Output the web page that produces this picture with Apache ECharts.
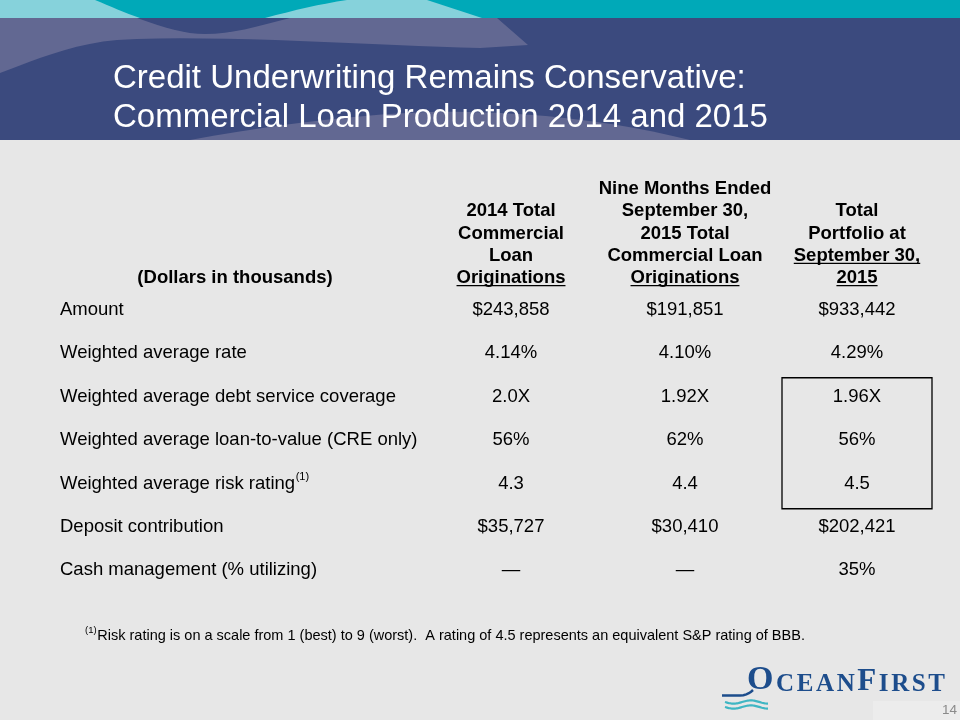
<!DOCTYPE html>
<html><head><meta charset="utf-8">
<script src="https://cdn.jsdelivr.net/npm/echarts@6/dist/echarts.min.js"></script>
<style>html,body{margin:0;padding:0;background:#e7e7e7}#c{width:960px;height:720px}</style>
</head><body><div id="c"></div><script>
// ---------- data ----------
const titleLines = ['Credit Underwriting Remains Conservative:', 'Commercial Loan Production 2014 and 2015'];
const stubHeader = '(Dollars in thousands)';
const columnHeaders = [
  ['2014 Total', 'Commercial', 'Loan', 'Originations'],
  ['Nine Months Ended', 'September 30,', '2015 Total', 'Commercial Loan', 'Originations'],
  ['Total', 'Portfolio at', 'September 30,', '2015']
];
const underlinedHeaderLines = [[3], [4], [2, 3]];
const rowLabels = ['Amount', 'Weighted average rate', 'Weighted average debt service coverage',
  'Weighted average loan-to-value (CRE only)', 'Weighted average risk rating', 'Deposit contribution',
  'Cash management (% utilizing)'];
const rowNotes = ['', '', '', '', '(1)', '', ''];
const col2014 = ['$243,858', '4.14%', '2.0X', '56%', '4.3', '$35,727', '\u2014'];
const col2015 = ['$191,851', '4.10%', '1.92X', '62%', '4.4', '$30,410', '\u2014'];
const colPortfolio = ['$933,442', '4.29%', '1.96X', '56%', '4.5', '$202,421', '35%'];
const boxedRowRange = [2, 4];
const footnoteMark = '(1)';
const footnoteText = 'Risk rating is on a scale from 1 (best) to 9 (worst).  A rating of 4.5 represents an equivalent S&P rating of BBB.';
const logoParts = ['O', 'CEAN', 'F', 'IRST'];
const pageNumber = '14';

// ---------- layout / style ----------
const FONT = "'Liberation Sans', Arial, sans-serif";
const SERIF = "'Liberation Serif', 'DejaVu Serif', serif";
const COL_X = [60, 511, 685, 857];
const FS = 18.5;
const TXT_DY = 2;
const NAVY = '#3b4a7e', LIGHTPURPLE = '#626892', TEAL = '#00a9b8', LIGHTTEAL = '#86d2db';
const valueCols = [col2014, col2015, colPortfolio];

const mctx = document.createElement('canvas').getContext('2d');
function tw(text, size, weight, fam) { mctx.font = (weight || 'normal') + ' ' + size + 'px ' + (fam || FONT); return mctx.measureText(text).width; }

function cubic(p0, p1, p2, p3, n) {
  const pts = [];
  for (let k = 0; k <= n; k++) {
    const t = k / n, u = 1 - t;
    pts.push([u*u*u*p0[0] + 3*u*u*t*p1[0] + 3*u*t*t*p2[0] + t*t*t*p3[0],
              u*u*u*p0[1] + 3*u*u*t*p1[1] + 3*u*t*t*p2[1] + t*t*t*p3[1]]);
  }
  return pts;
}

const g = [];
// banner
g.push({type: 'rect', shape: {x: 0, y: 0, width: 960, height: 140}, style: {fill: NAVY}, silent: true});
g.push({type: 'rect', shape: {x: 0, y: 0, width: 960, height: 18}, style: {fill: TEAL}, silent: true});
g.push({type: 'polygon', shape: {points: [[0,0],[95,0]].concat(cubic([95,0],[110,6],[125,13],[140,18],8)).concat([[0,18]])}, style: {fill: LIGHTTEAL}, silent: true});
g.push({type: 'polygon', shape: {points: cubic([265,18],[295,10],[320,4],[347,0],8).concat([[427,0],[482,18]])}, style: {fill: LIGHTTEAL}, silent: true});
// light purple upper wave
let p1 = [[0,18],[497,18],[528,45],[480,48]];
p1 = p1.concat(cubic([480,48],[380,46],[220,34],[117,40],16)).concat(cubic([117,40],[70,44],[30,62],[0,73],10));
g.push({type: 'polygon', shape: {points: p1}, style: {fill: LIGHTPURPLE}, silent: true});
// navy dip
g.push({type: 'polygon', shape: {points: cubic([137,18],[165,28],[185,34],[205,34],8).concat(cubic([205,34],[232,34],[255,27],[290,18],8))}, style: {fill: NAVY}, silent: true});
// lower light purple wave
g.push({type: 'polygon', shape: {points: cubic([190,140],[300,120],[400,110],[470,112],14).concat(cubic([470,112],[560,114],[630,125],[690,140],10))}, style: {fill: LIGHTPURPLE}, silent: true});
// title
titleLines.forEach((t, k) => {
  g.push({type: 'text', x: 113, y: [79, 118.3][k], style: {text: t, fill: '#ffffff', fontSize: 33, fontFamily: FONT, align: 'left', verticalAlign: 'middle'}, silent: true});
});
// stub header
g.push({type: 'text', x: 235, y: 276.2 + TXT_DY, style: {text: stubHeader, fill: '#000', fontSize: FS, fontWeight: 'bold', fontFamily: FONT, align: 'center', verticalAlign: 'middle'}, silent: true});
// column headers
columnHeaders.forEach((lines, j) => {
  const cx = COL_X[j + 1];
  lines.forEach((ln, k) => {
    const cy = 276.2 - (lines.length - 1 - k) * 22.3;
    g.push({type: 'text', x: cx, y: cy + TXT_DY, style: {text: ln, fill: '#000', fontSize: FS, fontWeight: 'bold', fontFamily: FONT, align: 'center', verticalAlign: 'middle'}, silent: true});
    if (underlinedHeaderLines[j].indexOf(k) >= 0) {
      const w = tw(ln, FS, 'bold');
      g.push({type: 'line', shape: {x1: cx - w / 2, y1: cy + 9.5, x2: cx + w / 2, y2: cy + 9.5}, style: {stroke: '#000', lineWidth: 1.3}, silent: true});
    }
  });
});
// footnote
g.push({type: 'text', x: 85, y: 630.5, style: {text: footnoteMark, fill: '#000', fontSize: 9.5, fontFamily: FONT, align: 'left', verticalAlign: 'middle'}, silent: true});
g.push({type: 'text', x: 97.3, y: 636, style: {text: footnoteText, fill: '#000', fontSize: 14.5, fontFamily: FONT, align: 'left', verticalAlign: 'middle'}, silent: true});
// page number area
g.push({type: 'rect', shape: {x: 873, y: 701, width: 87, height: 19}, style: {fill: '#ececec'}, silent: true});
g.push({type: 'text', x: 957, y: 710.5, style: {text: pageNumber, fill: '#8a8a8a', fontSize: 13.5, fontFamily: FONT, align: 'right', verticalAlign: 'middle'}, silent: true});
// logo
(function () {
  const BLUE = '#1d4d8c';
  const sizes = [34, 25, 31, 25];
  let x = 747;
  logoParts.forEach((part, pi) => {
    for (const ch of part) {
      g.push({type: 'text', x: x, y: 697, style: {text: ch, fill: BLUE, fontSize: sizes[pi], fontWeight: 'bold', fontFamily: SERIF, align: 'left', verticalAlign: 'bottom'}, silent: true});
      x += tw(ch, sizes[pi], 'bold', SERIF) + 2.6;
    }
  });
  g.push({type: 'polyline', shape: {points: [[722,695.5],[740,695.5]].concat(cubic([740,695.5],[746,695.5],[750,693],[753,690],5))}, style: {stroke: BLUE, lineWidth: 2.5, fill: null}, silent: true});
  [702, 707].forEach(yy => {
    const pts = [];
    for (let xx = 725; xx <= 768; xx += 1) pts.push([xx, yy + 1.6 * Math.sin((xx - 725) / 43 * Math.PI * 2.5)]);
    g.push({type: 'polyline', shape: {points: pts}, style: {stroke: '#3fb6c3', lineWidth: 2.2, fill: null}, silent: true});
  });
})();

// table cells via custom series on a category row axis
const cellData = [];
rowLabels.forEach((r, i) => { for (let j = 0; j < 4; j++) cellData.push([j, i]); });

function renderCell(params, api) {
  const j = api.value(0), i = api.value(1);
  const y = api.coord([0, i])[1];
  const children = [];
  if (j === 0) {
    children.push({type: 'text', x: COL_X[0], y: y + TXT_DY, style: {text: rowLabels[i], fill: '#000', fontSize: FS, fontFamily: FONT, align: 'left', verticalAlign: 'middle'}});
    if (rowNotes[i]) {
      const w = tw(rowLabels[i], FS);
      children.push({type: 'text', x: COL_X[0] + w + 0.5, y: y - 4, style: {text: rowNotes[i], fill: '#000', fontSize: 11, fontFamily: FONT, align: 'left', verticalAlign: 'middle'}});
    }
  } else {
    children.push({type: 'text', x: COL_X[j], y: y + TXT_DY, style: {text: valueCols[j - 1][i], fill: '#000', fontSize: FS, fontFamily: FONT, align: 'center', verticalAlign: 'middle'}});
    if (j === 3 && i === boxedRowRange[0]) {
      const yb = api.coord([0, boxedRowRange[1]])[1];
      children.push({type: 'rect', shape: {x: 782, y: y - 16.8, width: 150, height: (yb + 27.3) - (y - 16.8)}, style: {fill: null, stroke: '#000', lineWidth: 1.3}});
    }
  }
  return {type: 'group', children: children};
}

const chart = echarts.init(document.getElementById('c'), null, {renderer: 'canvas'});
chart.setOption({
  backgroundColor: '#e7e7e7',
  animation: false,
  graphic: {elements: g},
  grid: {left: 0, right: 0, top: 286, bottom: 130},
  xAxis: {type: 'value', min: 0, max: 3, show: false},
  yAxis: {type: 'category', data: rowLabels, inverse: true, show: false},
  series: [{type: 'custom', renderItem: renderCell, data: cellData, silent: true, clip: false}]
});
</script></body></html>
